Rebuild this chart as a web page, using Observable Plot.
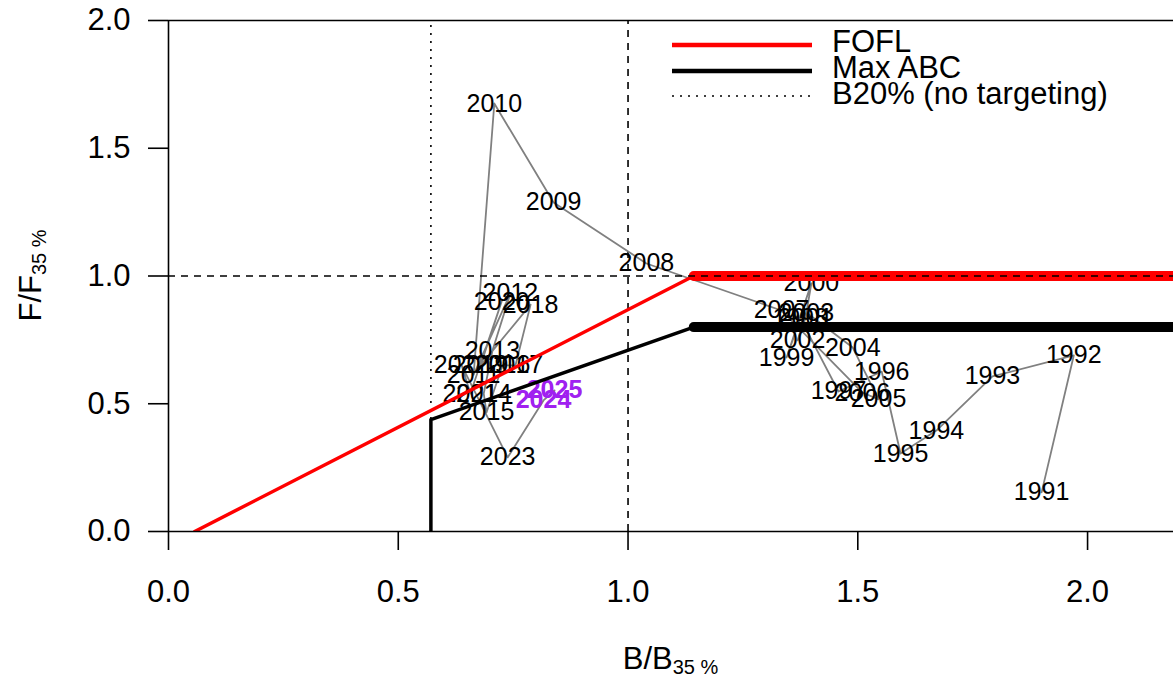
<!DOCTYPE html>
<html><head><meta charset="utf-8">
<script src="https://cdn.jsdelivr.net/npm/d3@7"></script>
<script src="https://cdn.jsdelivr.net/npm/@observablehq/plot@0.6"></script>
<style>body{margin:0;background:#fff;} svg{display:block;}</style>
</head><body>
<div id="chart"></div>
<script>
// ---- data ----
const years = [1991,1992,1993,1994,1995,1996,1997,1998,1999,2000,
               2001,2002,2003,2004,2005,2006,2007,2008,2009,2010,
               2011,2012,2013,2014,2015,2016,2017,2018,2019,2020,
               2021,2022,2023,2024,2025];
const bRel = [1.900,1.970,1.793,1.671,1.593,1.552,1.458,1.375,1.345,1.399,
              1.386,1.369,1.388,1.489,1.545,1.510,1.334,1.040,0.838,0.709,
              0.664,0.744,0.705,0.686,0.692,0.727,0.755,0.788,0.679,0.725,
              0.657,0.638,0.738,0.816,0.840];
const fRel = [0.153,0.689,0.607,0.395,0.305,0.626,0.548,0.834,0.681,0.971,
              0.834,0.748,0.857,0.720,0.517,0.544,0.865,1.049,1.288,1.675,
              0.614,0.932,0.708,0.540,0.466,0.650,0.650,0.888,0.650,0.900,
              0.540,0.650,0.290,0.513,0.552];
const highlightYears = [2024, 2025];
// harvest control rules (B/B35%, F/F35%)
const oflB = [0.057, 1.143, 2.3];
const oflF = [0, 1.0, 1.0];
const abcB = [0.571, 0.571, 1.143, 2.3];
const abcF = [0, 0.438, 0.80, 0.80];
const b20 = 0.571;
const refB = 1.0, refF = 1.0;
const xTicks = [0, 0.5, 1.0, 1.5, 2.0];
const yTicks = [0, 0.5, 1.0, 1.5, 2.0];
const legendLabels = ["FOFL", "Max ABC", "B20% (no targeting)"];
const legendColors = ["#FF0000", "#000000", "#000000"];

// ---- build tables ----
const pts = years.map((yr, i) => ({year: yr, b: bRel[i], f: fRel[i], hi: highlightYears.includes(yr)}));
const seg = (bs, fs, from, to) => bs.slice(from, to).map((b, i) => ({b, f: fs[from + i]}));
const oflThin = seg(oflB, oflF, 0, 2), oflThick = seg(oflB, oflF, 1, 3);
const abcThin = seg(abcB, abcF, 0, 3), abcThick = seg(abcB, abcF, 2, 4);

const font = "'Liberation Sans', Arial, Helvetica, sans-serif";
const W = 1173, H = 681, ML = 168, MT = 20, MB = 150;

const plot = Plot.plot({
  width: W, height: H, marginLeft: ML, marginRight: 0, marginTop: MT, marginBottom: MB,
  style: {fontFamily: font, background: "#fff", color: "#000"},
  x: {domain: [0, 2.187], label: null},
  y: {domain: [0, 2], label: null},
  marks: [
    Plot.ruleX([b20], {y1: 0, y2: 2, stroke: "#000", strokeWidth: 1.6, strokeDasharray: "2,6"}),
    Plot.ruleX([refB], {y1: 0, y2: 2, stroke: "#000", strokeWidth: 1.6, strokeDasharray: "7,6"}),
    Plot.line(pts, {x: "b", y: "f", stroke: "#808080", strokeWidth: 1.8}),
    Plot.text(pts.filter(d => !d.hi), {x: "b", y: "f", text: d => String(d.year), fontSize: 25, fill: "#000"}),
    Plot.text(pts.filter(d => d.hi), {x: "b", y: "f", text: d => String(d.year), fontSize: 25, fontWeight: "bold", fill: "#A020F0"}),
    Plot.line(oflThin, {x: "b", y: "f", stroke: "#FF0000", strokeWidth: 3.5, clip: true}),
    Plot.line(oflThick, {x: "b", y: "f", stroke: "#FF0000", strokeWidth: 10, clip: true}),
    Plot.line(abcThin, {x: "b", y: "f", stroke: "#000", strokeWidth: 3.5, clip: true}),
    Plot.line(abcThick, {x: "b", y: "f", stroke: "#000", strokeWidth: 10, clip: true}),
    Plot.ruleY([refF], {stroke: "#000", strokeWidth: 1.6, strokeDasharray: "7,6"}),
    Plot.ruleX([0], {stroke: "#000", strokeWidth: 1.6}),
    Plot.ruleY([0, 2], {stroke: "#000", strokeWidth: 1.6}),
    Plot.axisX({ticks: xTicks, tickSize: 19, tickPadding: 29, tickFormat: d3.format(".1f"), fontSize: 31, label: null, strokeWidth: 1.6}),
    Plot.axisY({ticks: yTicks, tickSize: 20, tickPadding: 18, tickFormat: d3.format(".1f"), fontSize: 31, label: null, strokeWidth: 1.6})
  ]
});
document.getElementById("chart").appendChild(plot);

// ---- axis titles with subscripts ----
const svg = d3.select(plot);
const xt = svg.append("text").attr("x", (ML + W) / 2).attr("y", 669)
  .attr("text-anchor", "middle").style("font-size", "31px").style("font-family", font);
xt.append("tspan").text("B/B");
xt.append("tspan").attr("dy", 5).style("font-size", "20px").text("35 %");

const yt = svg.append("text").attr("transform", `translate(41,${(MT + H - MB) / 2}) rotate(-90)`)
  .attr("text-anchor", "middle").style("font-size", "31px").style("font-family", font);
yt.append("tspan").text("F/F");
yt.append("tspan").attr("dy", 5).style("font-size", "20px").text("35 %");

// ---- legend ----
const lg = svg.append("g");
const lyLine = [45, 71, 96], lyText = [52, 78, 104];
legendLabels.forEach((lab, i) => {
  const ln = lg.append("line").attr("x1", 672).attr("x2", 812).attr("y1", lyLine[i]).attr("y2", lyLine[i])
    .attr("stroke", legendColors[i]);
  if (i < 2) ln.attr("stroke-width", 4.5);
  else ln.attr("stroke-width", 1.6).attr("stroke-dasharray", "2,6");
  lg.append("text").attr("x", 832).attr("y", lyText[i]).attr("text-anchor", "start")
    .style("font-size", "31px").style("font-family", font).text(lab);
});
</script>
</body></html>
